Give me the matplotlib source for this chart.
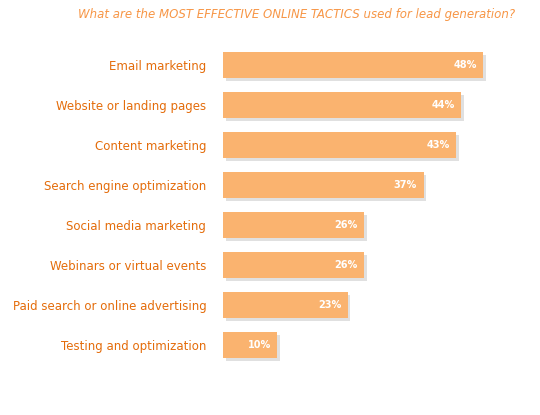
import matplotlib
matplotlib.use("Agg")
import matplotlib.pyplot as plt
import matplotlib.patheffects as pe

categories = ["Email marketing", "Website or landing pages", "Content marketing",
              "Search engine optimization", "Social media marketing",
              "Webinars or virtual events", "Paid search or online advertising",
              "Testing and optimization"]
values = [48, 44, 43, 37, 26, 26, 23, 10]

fig = plt.figure(figsize=(5.4, 4.15), dpi=100)
ax = fig.add_axes([0.413, 0.1205, 0.587, 0.7711])
y = list(range(len(categories)))
bars = ax.barh(y, values, height=0.66, color="#FAB36F", edgecolor="none")
for b in bars:
    b.set_path_effects([pe.SimplePatchShadow(offset=(2, -2), shadow_rgbFace="#cccccc", alpha=0.6), pe.Normal()])
for yi, v in zip(y, values):
    ax.text(v - 1.2, yi, f"{v}%", ha="right", va="center", color="white",
            fontsize=7, fontweight="bold")
ax.set_xlim(0, 58.5)
ax.set_ylim(len(categories) - 0.5, -0.5)
ax.set_yticks(y)
ax.set_yticklabels(categories, color="#E46C0A", fontsize=8.5)
ax.tick_params(axis="y", length=0, pad=12)
ax.set_xticks([])
for s in ax.spines.values():
    s.set_visible(False)
fig.text(0.55, 0.965, "What are the MOST EFFECTIVE ONLINE TACTICS used for lead generation?",
         ha="center", va="center", color="#F79646", fontsize=8.5, style="italic")
fig.savefig("out.png", dpi=100)
